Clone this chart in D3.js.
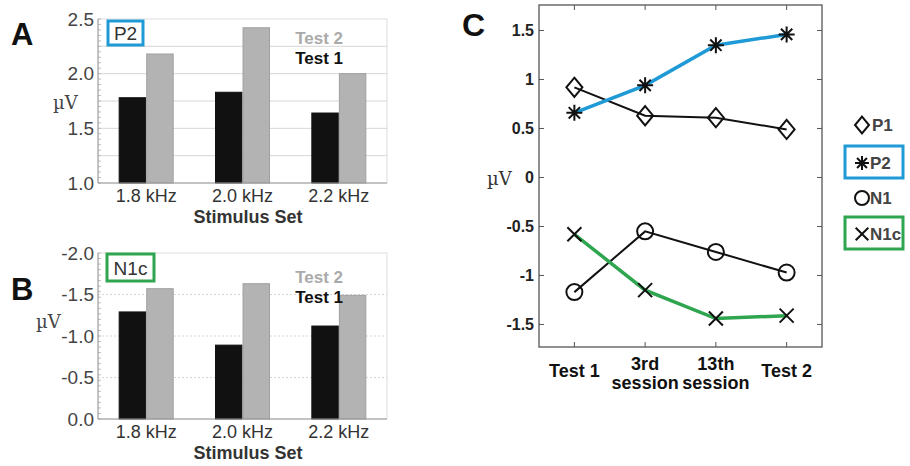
<!DOCTYPE html>
<html>
<head>
<meta charset="utf-8">
<script src="https://cdn.jsdelivr.net/npm/d3@7"></script>
<style>
  body { margin: 0; background: #fff; }
  svg { font-family: Arial, "Liberation Sans", sans-serif; }
</style>
</head>
<body>
<svg id="fig" width="910" height="466"></svg>
<script>
// bar panels
const stimSets = ["1.8 kHz", "2.0 kHz", "2.2 kHz"];
const testSeries = ["Test 1", "Test 2"];
const p2Test1 = [1.78, 1.83, 1.64];
const p2Test2 = [2.18, 2.42, 2.0];
const n1cTest1 = [-1.29, -0.89, -1.12];
const n1cTest2 = [-1.57, -1.63, -1.49];
const p2Ticks = [1.0, 1.5, 2.0, 2.5];
const n1cTicks = [0.0, -0.5, -1.0, -1.5, -2.0];

// line panel
const sessions = ["Test 1", "3rd session", "13th session", "Test 2"];
const p1Vals = [0.92, 0.63, 0.61, 0.49];
const p2Vals = [0.66, 0.94, 1.35, 1.46];
const n1Vals = [-1.17, -0.55, -0.76, -0.97];
const n1cVals = [-0.58, -1.15, -1.44, -1.41];
const cTicks = [-1.5, -1, -0.5, 0, 0.5, 1, 1.5];

const blue = "#1f9ad6";
const green = "#2fa54f";
const svg = d3.select("#fig");

// plain hyphen minus like the original figure
const fmt1 = d => d3.format(".1f")(d).replace("\u2212", "-");

function barPanel(opt) {
  const g = svg.append("g");
  const x0 = d3.scaleBand().domain(stimSets).range([98, 387]);
  const x1 = d3.scaleBand().domain(testSeries).range([x0.bandwidth() / 2 - 27, x0.bandwidth() / 2 + 27]).paddingInner(0.04);
  const y = d3.scaleLinear().domain(opt.domain).range([opt.bottom, opt.top]);

  // frame
  g.append("rect").attr("x", 98).attr("y", opt.top).attr("width", 289).attr("height", opt.bottom - opt.top)
    .attr("fill", "none").attr("stroke", "#ddd");
  // grid lines
  g.selectAll(".grid").data(opt.grid).enter().append("line")
    .attr("x1", 98).attr("x2", 387)
    .attr("y1", d => y(d)).attr("y2", d => y(d))
    .attr("stroke", "#d6d6d6").attr("stroke-width", 1)
    .attr("stroke-dasharray", opt.dash);
  // minor ticks on left axis
  g.selectAll(".minor").data(d3.range(0, 31).map(i => opt.domain[0] + (opt.domain[1] - opt.domain[0]) * i / 30)).enter().append("line")
    .attr("x1", 98).attr("x2", 101)
    .attr("y1", d => y(d)).attr("y2", d => y(d))
    .attr("stroke", "#bbb");

  const rows = stimSets.map((s, i) => ({ set: s, vals: [opt.t1[i], opt.t2[i]] }));
  rows.forEach(r => {
    r.vals.forEach((v, j) => {
      g.append("rect")
        .attr("x", x0(r.set) + x1(testSeries[j]))
        .attr("width", x1.bandwidth())
        .attr("y", Math.min(y(v), y(opt.base)))
        .attr("height", Math.abs(y(opt.base) - y(v)))
        .attr("fill", j === 0 ? "#111" : "#b3b3b3")
        .attr("stroke", j === 0 ? "#111" : "#a0a0a0");
    });
  });
  // axes lines
  g.append("line").attr("x1", 98).attr("x2", 98).attr("y1", opt.top).attr("y2", opt.bottom).attr("stroke", "#999");
  g.append("line").attr("x1", 98).attr("x2", 387).attr("y1", opt.bottom).attr("y2", opt.bottom).attr("stroke", "#999");

  const yAxis = g.append("g").attr("transform", "translate(98,0)")
    .call(d3.axisLeft(y).tickValues(opt.ticks).tickFormat(fmt1).tickSize(0).tickPadding(4));
  yAxis.select(".domain").remove();
  yAxis.selectAll("text").attr("font-size", 19).attr("fill", "#444");

  const xAxis = g.append("g").attr("transform", "translate(0," + opt.bottom + ")")
    .call(d3.axisBottom(x0).tickSize(0).tickPadding(6));
  xAxis.select(".domain").remove();
  xAxis.selectAll("text").attr("font-size", 18).attr("fill", "#333");

  g.append("text").attr("x", 248).attr("y", opt.bottom + 40).attr("text-anchor", "middle")
    .attr("font-size", 18).attr("font-weight", "bold").attr("fill", "#333").text("Stimulus Set");
  g.append("text").attr("x", opt.uvX).attr("y", opt.uvY).attr("font-size", 18).attr("fill", "#444")
    .attr("font-family", "'DejaVu Serif', serif").text("\u00b5V");
  g.append("text").attr("x", 11).attr("y", opt.letterY).attr("font-size", 31).attr("font-weight", "bold")
    .attr("fill", "#111").text(opt.letter);

  // tag box
  g.append("rect").attr("x", opt.box[0]).attr("y", opt.box[1]).attr("width", opt.box[2]).attr("height", opt.box[3])
    .attr("fill", "#fff").attr("stroke", opt.boxColor).attr("stroke-width", 3);
  g.append("text").attr("x", opt.box[0] + opt.box[2] / 2).attr("y", opt.box[1] + opt.box[3] / 2 + 7)
    .attr("text-anchor", "middle").attr("font-size", 19).attr("fill", "#333").text(opt.tag);

  g.append("text").attr("x", 343).attr("y", opt.legY).attr("text-anchor", "end").attr("font-size", 17)
    .attr("font-weight", "bold").attr("fill", "#aaa").text("Test 2");
  g.append("text").attr("x", 343).attr("y", opt.legY + 20).attr("text-anchor", "end").attr("font-size", 17)
    .attr("font-weight", "bold").attr("fill", "#111").text("Test 1");
}

barPanel({
  domain: [1.0, 2.5], top: 19, bottom: 183, base: 1.0,
  ticks: p2Ticks, grid: [1.25, 1.5, 1.75, 2.0, 2.25], dash: null,
  t1: p2Test1, t2: p2Test2, uvX: 53, uvY: 109, letter: "A", letterY: 45,
  box: [108, 21, 35, 24], boxColor: blue, tag: "P2", legY: 44
});
barPanel({
  domain: [0.0, -2.0], top: 253, bottom: 419, base: 0.0,
  ticks: n1cTicks, grid: [-0.5, -1.0, -1.5], dash: "2,2",
  t1: n1cTest1, t2: n1cTest2, uvX: 36, uvY: 328, letter: "B", letterY: 300,
  box: [107, 254, 47, 27], boxColor: green, tag: "N1c", legY: 283
});

// panel C
const cx = d3.scalePoint().domain(sessions).range([539, 822]).padding(0.5);
const cy = d3.scaleLinear().domain([-1.73, 1.76]).range([347, 5]);
const gc = svg.append("g");

gc.append("rect").attr("x", 539).attr("y", 5).attr("width", 283).attr("height", 342)
  .attr("fill", "none").attr("stroke", "#555").attr("stroke-width", 1.3);
cTicks.forEach(t => {
  gc.append("line").attr("x1", 539).attr("x2", 544).attr("y1", cy(t)).attr("y2", cy(t)).attr("stroke", "#555");
  gc.append("line").attr("x1", 817).attr("x2", 822).attr("y1", cy(t)).attr("y2", cy(t)).attr("stroke", "#555");
});
sessions.forEach(s => {
  gc.append("line").attr("x1", cx(s)).attr("x2", cx(s)).attr("y1", 5).attr("y2", 10).attr("stroke", "#555");
  gc.append("line").attr("x1", cx(s)).attr("x2", cx(s)).attr("y1", 342).attr("y2", 347).attr("stroke", "#555");
});
const cyAxis = gc.append("g").attr("transform", "translate(539,0)")
  .call(d3.axisLeft(cy).tickValues(cTicks).tickFormat(d => String(d)).tickSize(0).tickPadding(5));
cyAxis.select(".domain").remove();
cyAxis.selectAll("text").attr("font-size", 16).attr("font-weight", "bold").attr("fill", "#222");

sessions.forEach(s => {
  const words = s.split(" ");
  const t = gc.append("text").attr("x", cx(s)).attr("text-anchor", "middle")
    .attr("font-size", 18).attr("font-weight", "bold").attr("fill", "#111");
  if (s.indexOf("session") >= 0) {
    t.append("tspan").attr("x", cx(s)).attr("y", 370).text(words[0]);
    t.append("tspan").attr("x", cx(s)).attr("y", 389).text(words[1]);
  } else {
    t.attr("y", 377).text(s);
  }
});
gc.append("text").attr("x", 487).attr("y", 185).attr("font-size", 18).attr("fill", "#333")
  .attr("font-family", "'DejaVu Serif', serif").text("\u00b5V");
gc.append("text").attr("x", 462).attr("y", 36).attr("font-size", 32).attr("font-weight", "bold")
  .attr("fill", "#111").text("C");

const line = d3.line().x((d, i) => cx(sessions[i])).y(d => cy(d));
const series = [
  { name: "P1", vals: p1Vals, color: "#111", width: 2, sym: "diamond" },
  { name: "P2", vals: p2Vals, color: blue, width: 3.5, sym: "star" },
  { name: "N1", vals: n1Vals, color: "#111", width: 2, sym: "circle" },
  { name: "N1c", vals: n1cVals, color: green, width: 3.5, sym: "x" }
];

function marker(g, sym, x, y, s) {
  if (sym === "diamond") {
    g.append("path").attr("d", `M${x},${y - s * 1.2}L${x + s},${y}L${x},${y + s * 1.2}L${x - s},${y}Z`)
      .attr("fill", "none").attr("stroke", "#111").attr("stroke-width", 2);
  } else if (sym === "circle") {
    g.append("circle").attr("cx", x).attr("cy", y).attr("r", s)
      .attr("fill", "none").attr("stroke", "#111").attr("stroke-width", 2);
  } else if (sym === "x") {
    const r = s * 0.7;
    g.append("path").attr("d", `M${x - r},${y - r}L${x + r},${y + r}M${x - r},${y + r}L${x + r},${y - r}`)
      .attr("stroke", "#111").attr("stroke-width", 2);
  } else {
    let d = "";
    for (let k = 0; k < 4; k++) {
      const a = k * Math.PI / 4;
      d += `M${x - s * Math.cos(a)},${y - s * Math.sin(a)}L${x + s * Math.cos(a)},${y + s * Math.sin(a)}`;
    }
    g.append("path").attr("d", d).attr("stroke", "#111").attr("stroke-width", 2);
  }
}

series.forEach(sr => {
  gc.append("path").datum(sr.vals).attr("d", line).attr("fill", "none")
    .attr("stroke", sr.color).attr("stroke-width", sr.width);
  sr.vals.forEach((v, i) => marker(gc, sr.sym, cx(sessions[i]), cy(v), sr.sym === "x" ? 10 : 8));
});

// legend
const legY = [125, 163, 198, 234];
series.forEach((sr, i) => {
  if (sr.name === "P2" || sr.name === "N1c") {
    gc.append("rect").attr("x", 845).attr("y", legY[i] - 17).attr("width", 58).attr("height", 32)
      .attr("fill", "#fff").attr("stroke", sr.color).attr("stroke-width", 3);
  }
  marker(gc, sr.sym, 862, legY[i], sr.sym === "x" ? 9 : 7);
  gc.append("text").attr("x", sr.name === "P1" ? 872 : 870).attr("y", legY[i] + 6)
    .attr("font-size", 17).attr("font-weight", "bold").attr("fill", "#444").text(sr.name);
});
</script>
</body>
</html>
